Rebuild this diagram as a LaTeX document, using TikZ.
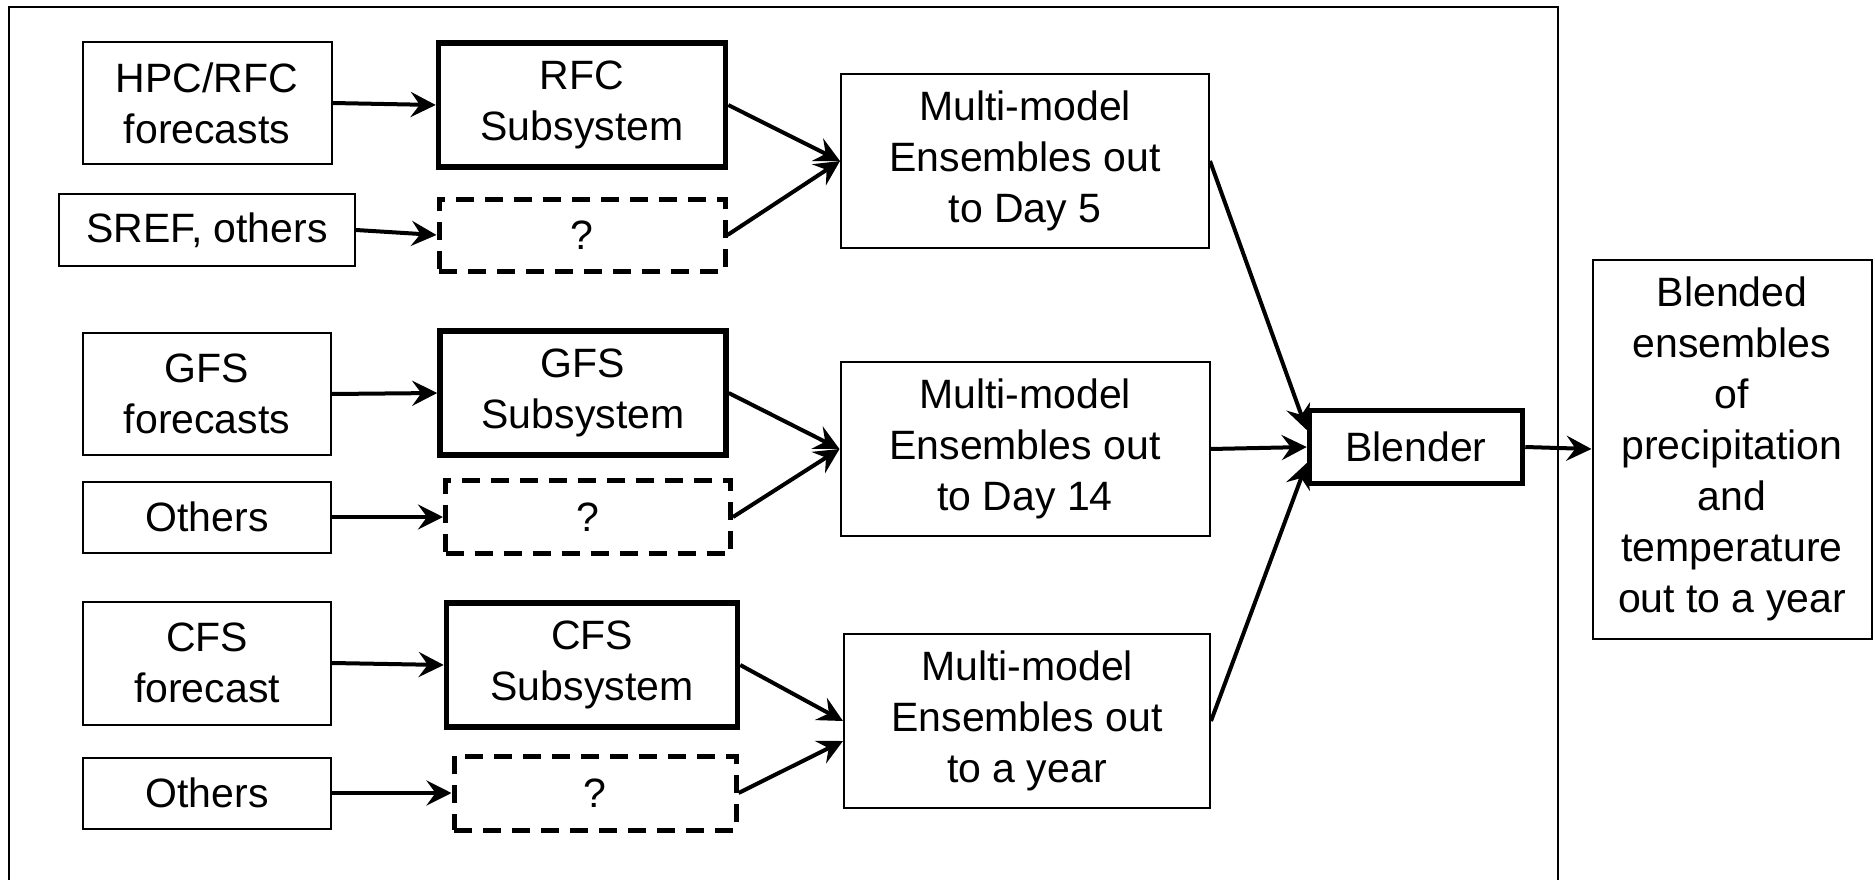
\documentclass[tikz,border=0pt]{standalone}
\usepackage{fontspec}
\setmainfont{Liberation Sans}
\usetikzlibrary{arrows.meta}

\begin{document}
\begin{tikzpicture}[
x=1pt,y=-1pt,
every node/.style={
align=center,
inner sep=0pt,
font=\fontsize{41}{51}\selectfont
},
inbox/.style={draw,line width=2pt},
subbox/.style={draw,line width=5.5pt},
qbox/.style={draw,line width=5pt,dash pattern=on 18pt off 11pt},
arr/.style={line width=4pt,-{Stealth[length=25pt,width=25pt,inset=9pt]}}
]

\useasboundingbox (0,0) rectangle (1875,880);

% outer frame, cut off at the bottom
\draw[line width=1.8pt] (9,900) -- (9,7) -- (1558,7) -- (1558,900);

% inputs
\node[inbox,minimum width=249pt,minimum height=122pt] (hpc) at (207,103) {HPC/RFC\\forecasts};

\node[inbox,minimum width=296pt,minimum height=71pt] (sref) at (207,230) {SREF, others};

\node[inbox,minimum width=248pt,minimum height=122pt] (gfs) at (207,394) {GFS\\forecasts};

\node[inbox,minimum width=248pt,minimum height=71pt] (othA) at (207,517) {Others};

\node[inbox,minimum width=248pt,minimum height=123pt] (cfs) at (207,663) {CFS\\forecast};

\node[inbox,minimum width=248pt,minimum height=71pt] (othB) at (207,793) {Others};

% subsystems
\node[subbox,minimum width=287pt,minimum height=124pt] (rfcsub) at (582,105) {RFC\\Subsystem};

\node[qbox,minimum width=286pt,minimum height=72pt] (qA) at (582,235) {?};

\node[subbox,minimum width=286pt,minimum height=124pt] (gfssub) at (583,393) {GFS\\Subsystem};

\node[qbox,minimum width=285pt,minimum height=73pt] (qB) at (588,517) {?};

\node[subbox,minimum width=291pt,minimum height=124pt] (cfssub) at (592,665) {CFS\\Subsystem};

\node[qbox,minimum width=282pt,minimum height=74pt] (qC) at (595,793) {?};

% ensembles
\node[inbox,minimum width=368pt,minimum height=174pt] (mmA) at (1025,161) {Multi-model\\Ensembles out\\to Day 5};

\node[inbox,minimum width=369pt,minimum height=174pt] (mmB) at (1025,449) {Multi-model\\Ensembles out\\to Day 14};

\node[inbox,minimum width=366pt,minimum height=174pt] (mmC) at (1027,721) {Multi-model\\Ensembles out\\to a year};

\node[subbox,minimum width=213pt,minimum height=73pt] (blender) at (1416,447) {Blender};

\node[inbox,minimum width=279pt,minimum height=379pt] (out) at (1732,449) {Blended\\ensembles\\of\\precipitation\\and\\temperature\\out to a year};

\draw[arr] (hpc.east)--(rfcsub.west);
\draw[arr] (sref.east)--(qA.west);
\draw[arr] (gfs.east)--(gfssub.west);
\draw[arr] (othA.east)--(qB.west);
\draw[arr] (cfs.east)--(cfssub.west);
\draw[arr] (othB.east)--(qC.west);

\draw[arr] (rfcsub.east)--(mmA.west);
\draw[arr] (qA.east)--(mmA.west);
\draw[arr] (gfssub.east)--(mmB.west);
\draw[arr] (qB.east)--(mmB.west);
\draw[arr] (cfssub.east)--(mmC.west);
\draw[arr] (qC.east)--([yshift=-20pt]mmC.west);

\draw[arr] (mmA.east)--([yshift=17pt]blender.west);
\draw[arr] (mmB.east)--(blender.west);
\draw[arr] (mmC.east)--([yshift=-16pt]blender.west);
\draw[arr] (blender.east)--(out.west);

\end{tikzpicture}
\end{document}
